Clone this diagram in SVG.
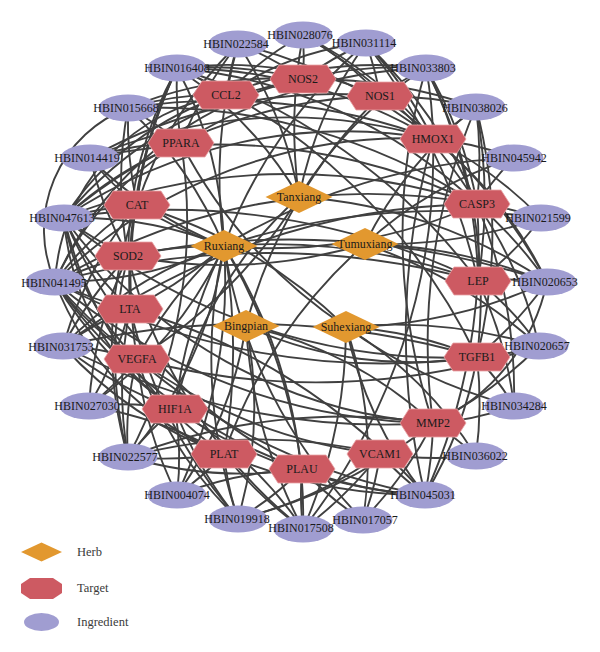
<svg xmlns="http://www.w3.org/2000/svg" xmlns:xlink="http://www.w3.org/1999/xlink" width="600" height="652" viewBox="0 0 600 652">
<style>
.e path{fill:none;stroke:#404040;stroke-width:1.9}
.ing ellipse{fill:#a09dd1}
text{font-family:"Liberation Serif","Times New Roman",serif;font-size:12px;fill:#1a1a1a;text-anchor:middle}
.lg{text-anchor:start;fill:#3a3a3a;font-size:12.5px}
</style>
<defs>
<polygon id="hex" points="-33,0 -24,-14 24,-14 33,0 24,14 -24,14" fill="#cd5a62" stroke="#e9a3a6" stroke-width="0.8"/>
<polygon id="dia" points="-33.5,0 0,-16 33.5,0 0,16" fill="#e2982f"/>
</defs>
<rect width="600" height="652" fill="#fff"/>
<g id="edges" class="e">
<path d="M64 218A400 400 0 0 1 137 205"/><path d="M64 218A400 400 0 0 0 128 256"/><path d="M64 218A300 300 0 0 0 130 309"/><path d="M64 218A250 250 0 0 0 137 359"/><path d="M64 218A250 250 0 0 0 175 409"/><path d="M64 218A400 400 0 0 1 181 143"/><path d="M64 218A300 300 0 0 1 226 95"/><path d="M64 218A400 400 0 0 1 303 79"/><path d="M64 218A400 400 0 0 0 224 454"/><path d="M64 218A500 500 0 0 0 302 469"/><path d="M64 218A500 500 0 0 0 433 423"/><path d="M64 218A600 600 0 0 1 477 204"/><path d="M64 218A500 500 0 0 1 433 139"/><path d="M64 218A600 600 0 0 0 477 357"/><path d="M64 218A400 400 0 0 1 224 246"/><path d="M64 218A700 700 0 0 1 478 281"/><path d="M64 218A500 500 0 0 1 380 96"/>
<path d="M55 282A300 300 0 0 1 137 205"/><path d="M55 282A400 400 0 0 1 128 256"/><path d="M55 282A400 400 0 0 0 130 309"/><path d="M55 282A300 300 0 0 0 137 359"/><path d="M55 282A400 400 0 0 0 175 409"/><path d="M55 282A300 300 0 0 0 224 454"/><path d="M55 282A500 500 0 0 0 302 469"/><path d="M55 282A300 300 0 0 1 181 143"/><path d="M55 282A200 200 0 0 1 226 95"/><path d="M55 282A350 350 0 0 1 303 79"/><path d="M55 282A600 600 0 0 1 477 204"/><path d="M55 282A500 500 0 0 1 433 139"/><path d="M55 282A600 600 0 0 0 433 423"/><path d="M55 282A500 500 0 0 0 380 454"/><path d="M55 282A700 700 0 0 0 477 357"/><path d="M55 282A800 800 0 0 1 478 281"/><path d="M55 282A400 400 0 0 0 224 246"/><path d="M55 282A130 130 0 0 1 128 108"/>
<path d="M177 68A300 300 0 0 1 226 95"/><path d="M177 68A400 400 0 0 0 181 143"/><path d="M177 68A400 400 0 0 0 137 205"/><path d="M177 68A400 400 0 0 1 303 79"/><path d="M177 68A400 400 0 0 0 128 256"/><path d="M177 68A500 500 0 0 0 130 309"/><path d="M177 68A500 500 0 0 0 137 359"/><path d="M177 68A500 500 0 0 1 433 139"/><path d="M177 68A500 500 0 0 1 477 204"/><path d="M177 68A400 400 0 0 1 380 96"/><path d="M177 68A400 400 0 0 1 299 197"/><path d="M177 68A400 400 0 0 1 224 246"/><path d="M177 68A600 600 0 0 1 478 281"/><path d="M177 68A600 600 0 0 1 477 357"/>
<path d="M128 457A300 300 0 0 1 137 359"/><path d="M128 457A300 300 0 0 1 175 409"/><path d="M128 457A400 400 0 0 0 224 454"/><path d="M128 457A400 400 0 0 1 130 309"/><path d="M128 457A400 400 0 0 1 128 256"/><path d="M128 457A400 400 0 0 1 137 205"/><path d="M128 457A400 400 0 0 0 302 469"/><path d="M128 457A400 400 0 0 0 224 246"/><path d="M128 457A600 600 0 0 1 433 423"/><path d="M128 457A500 500 0 0 1 380 454"/><path d="M128 457A500 500 0 0 0 181 143"/>
<path d="M426 68A300 300 0 0 0 380 96"/><path d="M426 68A400 400 0 0 1 433 139"/><path d="M426 68A400 400 0 0 1 477 204"/><path d="M426 68A400 400 0 0 0 303 79"/><path d="M426 68A500 500 0 0 1 478 281"/><path d="M426 68A500 500 0 0 1 477 357"/><path d="M426 68A600 600 0 0 0 433 423"/><path d="M426 68A400 400 0 0 0 299 197"/><path d="M426 68A500 500 0 0 0 181 143"/><path d="M426 68A400 400 0 0 0 226 95"/>
<path d="M425 495A300 300 0 0 1 380 454"/><path d="M425 495A400 400 0 0 0 433 423"/><path d="M425 495A400 400 0 0 1 302 469"/><path d="M425 495A500 500 0 0 1 224 454"/><path d="M425 495A400 400 0 0 0 477 357"/><path d="M425 495A500 500 0 0 1 175 409"/><path d="M425 495A600 600 0 0 1 137 359"/><path d="M425 495A400 400 0 0 1 346 327"/><path d="M425 495A600 600 0 0 0 477 204"/><path d="M425 495A700 700 0 0 1 433 139"/><path d="M425 495A600 600 0 0 0 130 309"/>
<path d="M238 519A300 300 0 0 1 224 454"/><path d="M238 519A300 300 0 0 0 302 469"/><path d="M238 519A400 400 0 0 1 175 409"/><path d="M238 519A400 400 0 0 1 137 359"/><path d="M238 519A400 400 0 0 0 246 326"/><path d="M238 519A500 500 0 0 1 224 246"/><path d="M238 519A400 400 0 0 0 380 454"/><path d="M238 519A500 500 0 0 0 433 423"/><path d="M238 519A500 500 0 0 1 130 309"/>
<path d="M303 529A300 300 0 0 1 302 469"/><path d="M303 529A400 400 0 0 1 224 454"/><path d="M303 529A400 400 0 0 0 175 409"/><path d="M303 529A500 500 0 0 1 246 326"/><path d="M303 529A500 500 0 0 0 346 327"/><path d="M303 529A400 400 0 0 0 380 454"/><path d="M303 529A500 500 0 0 0 224 246"/><path d="M303 529A500 500 0 0 1 128 256"/><path d="M303 529A600 600 0 0 0 433 139"/>
<path d="M363 520A300 300 0 0 0 380 454"/><path d="M363 520A300 300 0 0 1 302 469"/><path d="M363 520A400 400 0 0 0 346 327"/><path d="M363 520A400 400 0 0 0 433 423"/><path d="M363 520A500 500 0 0 1 224 246"/>
<path d="M238 44A300 300 0 0 0 226 95"/><path d="M238 44A300 300 0 0 1 303 79"/><path d="M238 44A400 400 0 0 0 181 143"/><path d="M238 44A400 400 0 0 1 299 197"/><path d="M238 44A500 500 0 0 0 224 246"/><path d="M238 44A500 500 0 0 1 433 139"/><path d="M238 44A400 400 0 0 0 137 205"/>
<path d="M303 35A300 300 0 0 1 303 79"/><path d="M303 35A300 300 0 0 1 380 96"/><path d="M303 35A500 500 0 0 0 299 197"/><path d="M303 35A300 300 0 0 0 226 95"/><path d="M303 35A400 400 0 0 1 433 139"/><path d="M303 35A500 500 0 0 1 477 204"/>
<path d="M366 43A300 300 0 0 1 380 96"/><path d="M366 43A300 300 0 0 0 303 79"/><path d="M366 43A400 400 0 0 1 433 139"/><path d="M366 43A400 400 0 0 0 299 197"/><path d="M366 43A500 500 0 0 1 477 204"/><path d="M366 43A300 300 0 0 0 226 95"/><path d="M366 43A500 500 0 0 0 224 246"/><path d="M366 43A600 600 0 0 1 478 281"/>
<path d="M128 108A300 300 0 0 1 181 143"/><path d="M128 108A300 300 0 0 1 226 95"/><path d="M128 108A400 400 0 0 0 137 205"/><path d="M128 108A400 400 0 0 1 224 246"/><path d="M128 108A400 400 0 0 1 303 79"/><path d="M128 108A400 400 0 0 0 128 256"/><path d="M128 108A600 600 0 0 1 477 204"/><path d="M128 108A600 600 0 0 1 433 139"/>
<path d="M476 107A300 300 0 0 1 433 139"/><path d="M476 107A400 400 0 0 0 380 96"/><path d="M476 107A400 400 0 0 1 477 204"/><path d="M476 107A400 400 0 0 0 365 244"/><path d="M476 107A500 500 0 0 1 477 357"/><path d="M476 107A500 500 0 0 1 478 281"/><path d="M476 107A600 600 0 0 0 433 423"/><path d="M476 107A500 500 0 0 0 303 79"/>
<path d="M90 158A300 300 0 0 1 181 143"/><path d="M90 158A300 300 0 0 0 137 205"/><path d="M90 158A400 400 0 0 0 224 246"/><path d="M90 158A400 400 0 0 0 128 256"/><path d="M90 158A600 600 0 0 1 477 204"/><path d="M90 158A500 500 0 0 1 433 139"/><path d="M90 158A500 500 0 0 1 380 96"/>
<path d="M514 158A300 300 0 0 0 477 204"/><path d="M514 158A300 300 0 0 0 433 139"/><path d="M514 158A400 400 0 0 0 365 244"/><path d="M514 158A600 600 0 0 0 224 246"/>
<path d="M541 218A300 300 0 0 0 477 204"/><path d="M541 218A300 300 0 0 1 478 281"/><path d="M541 218A500 500 0 0 1 365 244"/><path d="M541 218A400 400 0 0 0 433 139"/><path d="M541 218A700 700 0 0 0 224 246"/>
<path d="M547 282A300 300 0 0 0 478 281"/><path d="M547 282A400 400 0 0 0 477 204"/><path d="M547 282A400 400 0 0 1 477 357"/><path d="M547 282A500 500 0 0 0 365 244"/><path d="M547 282A500 500 0 0 0 299 197"/><path d="M547 282A400 400 0 0 0 433 139"/><path d="M547 282A200 200 0 0 1 433 423"/><path d="M547 282A500 500 0 0 1 346 327"/><path d="M547 282A500 500 0 0 0 380 96"/><path d="M547 282A800 800 0 0 0 128 256"/>
<path d="M63 346A300 300 0 0 1 137 359"/><path d="M63 346A300 300 0 0 1 130 309"/><path d="M63 346A400 400 0 0 1 128 256"/><path d="M63 346A400 400 0 0 0 175 409"/><path d="M63 346A400 400 0 0 1 224 246"/><path d="M63 346A400 400 0 0 1 137 205"/><path d="M63 346A400 400 0 0 0 224 454"/><path d="M63 346A700 700 0 0 0 433 423"/><path d="M63 346A700 700 0 0 1 477 204"/><path d="M63 346A800 800 0 0 1 477 357"/>
<path d="M539 346A300 300 0 0 1 477 357"/><path d="M539 346A300 300 0 0 0 478 281"/><path d="M539 346A500 500 0 0 0 346 327"/><path d="M539 346A400 400 0 0 0 477 204"/><path d="M539 346A400 400 0 0 1 433 423"/><path d="M539 346A500 500 0 0 0 365 244"/><path d="M539 346A700 700 0 0 1 137 359"/>
<path d="M89 406A300 300 0 0 0 137 359"/><path d="M89 406A300 300 0 0 1 175 409"/><path d="M89 406A400 400 0 0 0 224 246"/><path d="M89 406A400 400 0 0 0 130 309"/><path d="M89 406A400 400 0 0 1 224 454"/><path d="M89 406A400 400 0 0 1 128 256"/>
<path d="M514 406A300 300 0 0 0 477 357"/><path d="M514 406A400 400 0 0 0 478 281"/><path d="M514 406A500 500 0 0 1 346 327"/><path d="M514 406A300 300 0 0 1 433 423"/><path d="M514 406A500 500 0 0 0 477 204"/>
<path d="M476 456A300 300 0 0 0 433 423"/><path d="M476 456A400 400 0 0 1 380 454"/><path d="M476 456A400 400 0 0 0 346 327"/><path d="M476 456A400 400 0 0 0 477 357"/>
<path d="M177 495A300 300 0 0 0 175 409"/><path d="M177 495A300 300 0 0 0 224 454"/><path d="M177 495A500 500 0 0 0 224 246"/><path d="M177 495A400 400 0 0 1 137 359"/><path d="M177 495A400 400 0 0 0 246 326"/><path d="M177 495A400 400 0 0 1 302 469"/>
<path d="M246 326A400 400 0 0 1 433 423"/><path d="M246 326A400 400 0 0 0 477 357"/><path d="M346 327A400 400 0 0 1 477 357"/><path d="M346 327A500 500 0 0 0 137 205"/><path d="M365 244A500 500 0 0 1 128 256"/><path d="M299 197A500 500 0 0 1 137 359"/><path d="M224 246A500 500 0 0 0 477 204"/><path d="M224 246A600 600 0 0 1 478 281"/><path d="M299 197A400 400 0 0 0 175 409"/><path d="M365 244A500 500 0 0 0 224 454"/><path d="M346 327A500 500 0 0 1 181 143"/><path d="M246 326A500 500 0 0 1 380 96"/>
<path d="M224 246A600 600 0 0 1 224 454"/><path d="M224 246A500 500 0 0 0 175 409"/><path d="M224 246A600 600 0 0 1 302 469"/><path d="M224 246A400 400 0 0 0 137 359"/><path d="M224 246A400 400 0 0 1 130 309"/><path d="M224 246A400 400 0 0 0 128 256"/><path d="M224 246A400 400 0 0 1 137 205"/>
</g>
<g id="HBIN028076" class="ing"><ellipse cx="303" cy="35" rx="29.5" ry="13.5"/><text x="300" y="39">HBIN028076</text></g>
<g id="HBIN022584" class="ing"><ellipse cx="238" cy="44" rx="29.5" ry="13.5"/><text x="236" y="48">HBIN022584</text></g>
<g id="HBIN031114" class="ing"><ellipse cx="366" cy="43" rx="29.5" ry="13.5"/><text x="364" y="47">HBIN031114</text></g>
<g id="HBIN016408" class="ing"><ellipse cx="177" cy="68" rx="29.5" ry="13.5"/><text x="177" y="72">HBIN016408</text></g>
<g id="HBIN033803" class="ing"><ellipse cx="426" cy="68" rx="29.5" ry="13.5"/><text x="423" y="72">HBIN033803</text></g>
<g id="HBIN015668" class="ing"><ellipse cx="128" cy="108" rx="29.5" ry="13.5"/><text x="126" y="112">HBIN015668</text></g>
<g id="HBIN038026" class="ing"><ellipse cx="476" cy="107" rx="29.5" ry="13.5"/><text x="475" y="112">HBIN038026</text></g>
<g id="HBIN014419" class="ing"><ellipse cx="90" cy="158" rx="29.5" ry="13.5"/><text x="87" y="162">HBIN014419</text></g>
<g id="HBIN045942" class="ing"><ellipse cx="514" cy="158" rx="29.5" ry="13.5"/><text x="514" y="162">HBIN045942</text></g>
<g id="HBIN047613" class="ing"><ellipse cx="64" cy="218" rx="29.5" ry="13.5"/><text x="62" y="222">HBIN047613</text></g>
<g id="HBIN021599" class="ing"><ellipse cx="541" cy="218" rx="29.5" ry="13.5"/><text x="538" y="222">HBIN021599</text></g>
<g id="HBIN041495" class="ing"><ellipse cx="55" cy="282" rx="29.5" ry="13.5"/><text x="54" y="287">HBIN041495</text></g>
<g id="HBIN020653" class="ing"><ellipse cx="547" cy="282" rx="29.5" ry="13.5"/><text x="545" y="286">HBIN020653</text></g>
<g id="HBIN031753" class="ing"><ellipse cx="63" cy="346" rx="29.5" ry="13.5"/><text x="61" y="351">HBIN031753</text></g>
<g id="HBIN020657" class="ing"><ellipse cx="539" cy="346" rx="29.5" ry="13.5"/><text x="537" y="350">HBIN020657</text></g>
<g id="HBIN027030" class="ing"><ellipse cx="89" cy="406" rx="29.5" ry="13.5"/><text x="87" y="410">HBIN027030</text></g>
<g id="HBIN034284" class="ing"><ellipse cx="514" cy="406" rx="29.5" ry="13.5"/><text x="514" y="410">HBIN034284</text></g>
<g id="HBIN022577" class="ing"><ellipse cx="128" cy="457" rx="29.5" ry="13.5"/><text x="125" y="461">HBIN022577</text></g>
<g id="HBIN036022" class="ing"><ellipse cx="476" cy="456" rx="29.5" ry="13.5"/><text x="475" y="460">HBIN036022</text></g>
<g id="HBIN004074" class="ing"><ellipse cx="177" cy="495" rx="29.5" ry="13.5"/><text x="177" y="499">HBIN004074</text></g>
<g id="HBIN045031" class="ing"><ellipse cx="425" cy="495" rx="29.5" ry="13.5"/><text x="423" y="499">HBIN045031</text></g>
<g id="HBIN019918" class="ing"><ellipse cx="238" cy="519" rx="29.5" ry="13.5"/><text x="237" y="523">HBIN019918</text></g>
<g id="HBIN017057" class="ing"><ellipse cx="363" cy="520" rx="29.5" ry="13.5"/><text x="365" y="524">HBIN017057</text></g>
<g id="HBIN017508" class="ing"><ellipse cx="303" cy="529" rx="29.5" ry="13.5"/><text x="301" y="532">HBIN017508</text></g>
<g id="NOS2"><use xlink:href="#hex" x="303" y="79"/><text x="303" y="83">NOS2</text></g>
<g id="CCL2"><use xlink:href="#hex" x="226" y="95"/><text x="226" y="99">CCL2</text></g>
<g id="NOS1"><use xlink:href="#hex" x="380" y="96"/><text x="380" y="100">NOS1</text></g>
<g id="PPARA"><use xlink:href="#hex" x="181" y="143"/><text x="181" y="147">PPARA</text></g>
<g id="HMOX1"><use xlink:href="#hex" x="433" y="139"/><text x="433" y="143">HMOX1</text></g>
<g id="CAT"><use xlink:href="#hex" x="137" y="205"/><text x="137" y="209">CAT</text></g>
<g id="CASP3"><use xlink:href="#hex" x="477" y="204"/><text x="477" y="208">CASP3</text></g>
<g id="SOD2"><use xlink:href="#hex" x="128" y="256"/><text x="128" y="260">SOD2</text></g>
<g id="LEP"><use xlink:href="#hex" x="478" y="281"/><text x="478" y="285">LEP</text></g>
<g id="LTA"><use xlink:href="#hex" x="130" y="309"/><text x="130" y="313">LTA</text></g>
<g id="TGFB1"><use xlink:href="#hex" x="477" y="357"/><text x="477" y="361">TGFB1</text></g>
<g id="VEGFA"><use xlink:href="#hex" x="137" y="359"/><text x="137" y="363">VEGFA</text></g>
<g id="MMP2"><use xlink:href="#hex" x="433" y="423"/><text x="433" y="427">MMP2</text></g>
<g id="HIF1A"><use xlink:href="#hex" x="175" y="409"/><text x="175" y="413">HIF1A</text></g>
<g id="VCAM1"><use xlink:href="#hex" x="380" y="454"/><text x="380" y="458">VCAM1</text></g>
<g id="PLAT"><use xlink:href="#hex" x="224" y="454"/><text x="224" y="458">PLAT</text></g>
<g id="PLAU"><use xlink:href="#hex" x="302" y="469"/><text x="302" y="473">PLAU</text></g>
<g id="Tanxiang"><use xlink:href="#dia" x="299" y="197"/><text x="299" y="201">Tanxiang</text></g>
<g id="Ruxiang"><use xlink:href="#dia" x="224" y="246"/><text x="224" y="250">Ruxiang</text></g>
<g id="Tumuxiang"><use xlink:href="#dia" x="365" y="244"/><text x="365" y="248">Tumuxiang</text></g>
<g id="Bingpian"><use xlink:href="#dia" x="246" y="326"/><text x="246" y="330">Bingpian</text></g>
<g id="Suhexiang"><use xlink:href="#dia" x="346" y="327"/><text x="346" y="331">Suhexiang</text></g>
<g id="legend">
<polygon points="21,552 41.5,542.5 62,552 41.5,561.5" fill="#e2982f"/>
<text class="lg" x="77" y="556">Herb</text>
<polygon points="21,584 30,578 53,578 62,584 62,593 53,599 30,599 21,593" fill="#cd5a62"/>
<text class="lg" x="77" y="592">Target</text>
<ellipse cx="41.5" cy="622" rx="17.5" ry="9" fill="#a09dd1"/>
<text class="lg" x="77" y="626">Ingredient</text>
</g>
</svg>
